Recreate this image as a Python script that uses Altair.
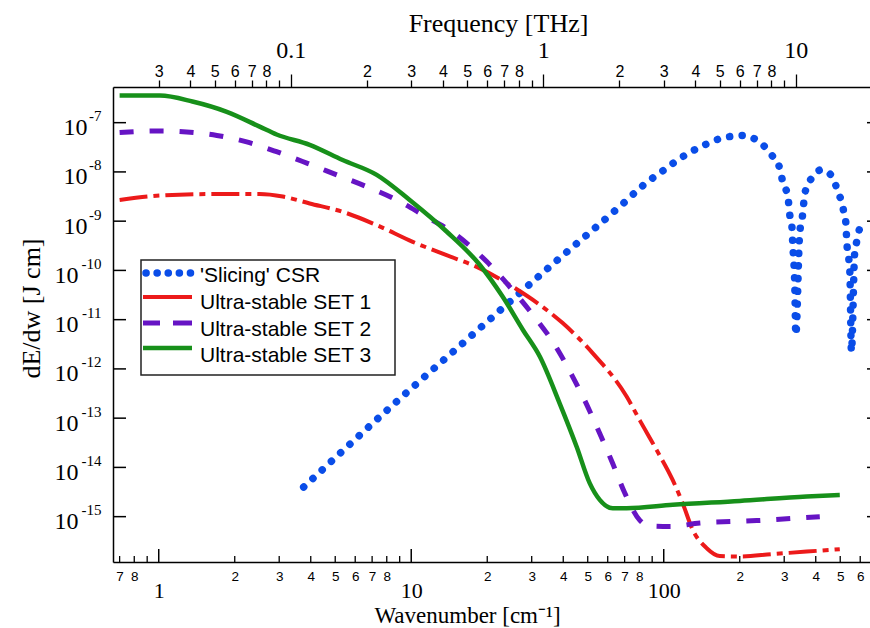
import altair as alt
import pandas as pd

# ---------------- data ----------------
series_names = ["'Slicing' CSR", "Ultra-stable SET 1", "Ultra-stable SET 2", "Ultra-stable SET 3"]
series_colors = ["#0A4DE8", "#EC1A1A", "#6614C4", "#17901A"]

# wavenumber [cm^-1]  /  dE/dw [J cm]
csr_w = [3.75, 9.17, 17.8, 35.3, 70.1, 82.6, 99.1, 118.9, 142.6, 171.3, 207.6, 225.4, 246.8,
         267.8, 285.3, 298.6, 309.8, 315.6, 321.5, 324.4, 330.3, 333.5, 345.2, 354.8, 361.4,
         371.5, 389.0, 418.8, 450.0, 475.4, 488.7, 507.0, 516.4, 526.0, 530.9, 545.8, 553.8,
         570.7, 580.8, 591.6, 619.0]
csr_e = [3.98e-15, 2.69e-13, 5.37e-12, 1.18e-10, 2.45e-9, 5.25e-9, 1.05e-8, 2.04e-8, 3.39e-8,
         4.90e-8, 5.50e-8, 4.90e-8, 3.55e-8, 2.19e-8, 1.38e-8, 5.37e-9, 3.39e-9, 1.35e-9,
         8.32e-10, 3.31e-10, 5.01e-11, 4.90e-12, 5.25e-10, 1.35e-9, 3.39e-9, 5.37e-9, 7.94e-9,
         1.10e-8, 9.55e-9, 6.31e-9, 3.89e-9, 2.45e-9, 1.55e-9, 9.55e-10, 3.80e-10, 9.33e-11,
         2.24e-12, 2.34e-10, 3.80e-10, 6.03e-10, 9.77e-10]

set1_w = [0.70, 1.01, 1.59, 2.51, 3.10, 3.96, 5.35, 7.30, 10.14, 13.8, 18.7, 25.2, 32.3, 39.8,
          52.3, 71.3, 80.3, 93.8, 108.6, 118.9, 130.3, 148.0, 166.6, 200, 270, 368, 498]
set1_e = [2.69e-9, 3.31e-9, 3.55e-9, 3.55e-9, 3.16e-9, 2.29e-9, 1.55e-9, 8.32e-10, 3.80e-10,
          2.04e-10, 1.10e-10, 4.68e-11, 2.00e-11, 8.51e-12, 2.09e-12, 2.75e-13, 9.12e-14,
          2.24e-14, 5.50e-15, 1.86e-15, 5.37e-16, 2.29e-16, 1.58e-16, 1.55e-16, 1.74e-16,
          1.95e-16, 2.19e-16]

set2_w = [0.70, 0.98, 1.29, 1.70, 2.23, 2.93, 3.86, 5.07, 6.67, 8.76, 11.1, 15.1, 19.9, 25.2,
          30.3, 37.0, 43.2, 49.6, 55.8, 62.8, 70.1, 80.3, 88.1, 105.6, 139.0, 233.5, 415]
set2_e = [6.31e-8, 6.76e-8, 6.46e-8, 5.50e-8, 4.07e-8, 2.57e-8, 1.51e-8, 8.71e-9, 5.01e-9,
          2.69e-9, 1.35e-9, 5.25e-10, 1.51e-10, 3.98e-11, 1.26e-11, 3.09e-12, 7.59e-13,
          1.86e-13, 4.90e-14, 1.20e-14, 3.02e-15, 8.51e-16, 6.46e-16, 6.31e-16, 7.41e-16,
          8.32e-16, 1.00e-15]

set3_w = [0.70, 1.01, 1.36, 1.86, 2.51, 2.93, 3.96, 5.35, 7.30, 9.86, 13.8, 18.7, 23.0, 27.7,
          32.3, 38.7, 45.2, 50.9, 55.8, 62.8, 71.3, 108.6, 200, 368, 498]
set3_e = [3.55e-7, 3.55e-7, 2.69e-7, 1.66e-7, 8.32e-8, 5.75e-8, 3.55e-8, 1.74e-8, 8.71e-9,
          2.69e-9, 6.17e-10, 1.29e-10, 2.95e-11, 6.17e-12, 1.78e-12, 2.00e-13, 2.63e-14,
          4.79e-15, 2.19e-15, 1.48e-15, 1.48e-15, 1.74e-15, 2.09e-15, 2.57e-15, 2.75e-15]

# axis ticks
x_tick_values = [0.7, 0.8, 0.9, 1, 2, 3, 4, 5, 6, 7, 8, 9, 10, 20, 30, 40, 50, 60, 70, 80, 90,
                 100, 200, 300, 400, 500, 600]
x_major_values = [1, 10, 100]
f_tick_values = [0.03, 0.04, 0.05, 0.06, 0.07, 0.08, 0.09, 0.1, 0.2, 0.3, 0.4, 0.5, 0.6, 0.7,
                 0.8, 0.9, 1, 2, 3, 4, 5, 6, 7, 8, 9, 10]
y_tick_values = [1e-7, 1e-8, 1e-9, 1e-10, 1e-11, 1e-12, 1e-13, 1e-14, 1e-15]

WAVENUMBER_PER_THZ = 33.356
X_DOMAIN = [0.659, 656.0]
Y_DOMAIN = [1.2e-16, 5.3e-7]
F_DOMAIN = [X_DOMAIN[0] / WAVENUMBER_PER_THZ, X_DOMAIN[1] / WAVENUMBER_PER_THZ]

W, H = 757, 475
SERIF = "Liberation Serif"
SANS = "Liberation Sans"

# ---------------- scales / axes ----------------
xs = alt.Scale(type="log", domain=X_DOMAIN, nice=False)
ys = alt.Scale(type="log", domain=Y_DOMAIN, nice=False)
fs = alt.Scale(type="log", domain=F_DOMAIN, nice=False)

LEAD = "substring(format(datum.value, '.0e'), 0, 1)"
X_DEC = "datum.value == 1 || datum.value == 10 || datum.value == 100"
F_DEC = "datum.value == 0.1 || datum.value == 1 || datum.value == 10"

x_axis = alt.Axis(
    values=x_tick_values, ticks=False, grid=False,
    domain=True, domainColor="black", domainWidth=1.5,
    labelExpr=f"({X_DEC}) ? format(datum.value, '~g') : ({LEAD} == '9' ? '' : {LEAD})",
    labelFont={"condition": {"test": X_DEC, "value": SERIF}, "value": SANS},
    labelFontSize={"condition": {"test": X_DEC, "value": 22}, "value": 13.5},
    labelPadding={"condition": {"test": X_DEC, "value": 35}, "value": 18},
    labelBaseline="alphabetic", labelColor="black", labelFlush=False, labelOverlap=False,
    title="Wavenumber [cm⁻¹]", titleFont=SERIF, titleFontSize=23, titleFontWeight="normal",
    titleColor="black", titleX=354, titleY=60, titleAlign="center", titleBaseline="alphabetic",
)

y_axis = alt.Axis(
    values=y_tick_values, ticks=False, grid=False,
    domain=True, domainColor="black", domainWidth=1.5,
    labelExpr="'10'", labelFont=SERIF, labelFontSize=24, labelColor="black",
    labelAlign="right", labelBaseline="alphabetic", labelOffset=12,
    labelPadding={"condition": {"test": "datum.value < 5e-10", "value": 35}, "value": 26},
    labelFlush=False, labelOverlap=False,
    title="dE/dw [J cm]", titleFont=SERIF, titleFontSize=26, titleFontWeight="normal",
    titleColor="black", titleX=-74, titleY=221, titleAlign="center",
    titleBaseline="alphabetic", titleAngle=270,
)

exp_axis = alt.Axis(
    orient="left", values=y_tick_values, ticks=False, grid=False, domain=False,
    labelExpr="'-' + round(-log(datum.value) / LN10)",
    labelFont=SERIF, labelFontSize=15, labelColor="black",
    labelAlign="right", labelBaseline="alphabetic", labelOffset=-2, labelPadding=12,
    labelFlush=False, labelOverlap=False, title=None,
)

top_axis = alt.Axis(
    orient="top", values=f_tick_values, grid=False,
    domain=True, domainColor="black", domainWidth=1.5,
    ticks=True, tickColor="black", tickWidth=1.3,
    tickSize={"condition": {"test": F_DEC, "value": 13}, "value": 7},
    labelExpr=f"({F_DEC}) ? format(datum.value, '~g') : ({LEAD} == '9' ? '' : {LEAD})",
    labelFont={"condition": {"test": F_DEC, "value": SERIF}, "value": SANS},
    labelFontSize={"condition": {"test": F_DEC, "value": 24}, "value": 16},
    labelPadding={"condition": {"test": F_DEC, "value": 17}, "value": 4},
    labelBaseline="alphabetic", labelColor="black", labelFlush=False, labelOverlap=False,
    title="Frequency [THz]", titleFont=SERIF, titleFontSize=26, titleFontWeight="normal",
    titleColor="black", titleX=385, titleY=-56, titleAlign="center", titleBaseline="alphabetic",
)

X = alt.X("w:Q", scale=xs, axis=x_axis)
Y = alt.Y("E:Q", scale=ys, axis=y_axis)


def series_df(w, e):
    return pd.DataFrame({"w": w, "E": e})


blue = alt.Chart(series_df(csr_w, csr_e)).mark_line(
    color=series_colors[0], strokeWidth=7.5, strokeDash=[0.1, 12.5], strokeCap="round",
    interpolate="monotone"
).encode(x=X, y=Y)
red = alt.Chart(series_df(set1_w, set1_e)).mark_line(
    color=series_colors[1], strokeWidth=4, strokeDash=[28, 6, 6, 6], interpolate="monotone"
).encode(x=X, y=Y)
purple = alt.Chart(series_df(set2_w, set2_e)).mark_line(
    color=series_colors[2], strokeWidth=5, strokeDash=[14, 16], interpolate="monotone"
).encode(x=X, y=Y)
green = alt.Chart(series_df(set3_w, set3_e)).mark_line(
    color=series_colors[3], strokeWidth=4.5, interpolate="monotone"
).encode(x=X, y=Y)

# inward ticks on bottom / right
x_minor_values = [v for v in x_tick_values if v not in x_major_values]
xt_major = alt.Chart(pd.DataFrame({"w": x_major_values})).mark_rule(
    color="black", strokeWidth=1.5).encode(x=X, y=alt.value(H), y2=alt.value(H - 13))
xt_minor = alt.Chart(pd.DataFrame({"w": x_minor_values})).mark_rule(
    color="black", strokeWidth=1.3).encode(x=X, y=alt.value(H), y2=alt.value(H - 6))
rt = alt.Chart(pd.DataFrame({"E": y_tick_values})).mark_rule(
    color="black", strokeWidth=1.5).encode(y=Y, x=alt.value(W - 3), x2=alt.value(W))

# legend
one = pd.DataFrame({"k": [0]})
legend_box = alt.Chart(one).mark_rect(
    fill="white", stroke="#222222", strokeWidth=1.5
).encode(x=alt.value(28), x2=alt.value(282), y=alt.value(173), y2=alt.value(288))

leg_line_y = [186, 210, 236, 261]
leg_text_y = [195, 222, 248.5, 275]
leg_styles = [
    dict(strokeWidth=7.5, strokeDash=[0.1, 11], strokeCap="round"),
    dict(strokeWidth=4),
    dict(strokeWidth=5, strokeDash=[17, 13, 19, 10]),
    dict(strokeWidth=4.5),
]
leg_x = [(33, 78), (30, 79), (30, 79), (30, 79)]
legend_layers = [legend_box]
for i, name in enumerate(series_names):
    legend_layers.append(
        alt.Chart(one).mark_rule(color=series_colors[i], **leg_styles[i]).encode(
            x=alt.value(leg_x[i][0]), x2=alt.value(leg_x[i][1]), y=alt.value(leg_line_y[i]))
    )
    legend_layers.append(
        alt.Chart(pd.DataFrame({"label": [name]})).mark_text(
            align="left", baseline="alphabetic", font=SANS, fontSize=21, color="black"
        ).encode(x=alt.value(87), y=alt.value(leg_text_y[i]), text="label:N")
    )

main = alt.layer(blue, red, purple, green, xt_major, xt_minor, rt, *legend_layers)

# exponent labels + inward ticks on the left axis
exp_layer = alt.Chart(pd.DataFrame({"E": y_tick_values})).mark_rule(
    color="black", strokeWidth=1.5
).encode(y=alt.Y("E:Q", scale=ys, axis=exp_axis), x=alt.value(0), x2=alt.value(13))

# top frequency axis
top_layer = alt.Chart(pd.DataFrame({"f": f_tick_values})).mark_point(opacity=0).encode(
    x=alt.X("f:Q", scale=fs, axis=top_axis), y=alt.value(0)
)

chart = (
    alt.layer(main, exp_layer, top_layer)
    .resolve_scale(x="independent", y="independent")
    .properties(
        width=W, height=H,
        autosize=alt.AutoSizeParams(type="none"),
        padding={"left": 113, "top": 87, "right": 0, "bottom": 66},
        background="white",
    )
    .configure_view(stroke=None)
    .configure(font=SANS)
)

chart.save("out.html", embed_options={"renderer": "svg", "actions": False})
